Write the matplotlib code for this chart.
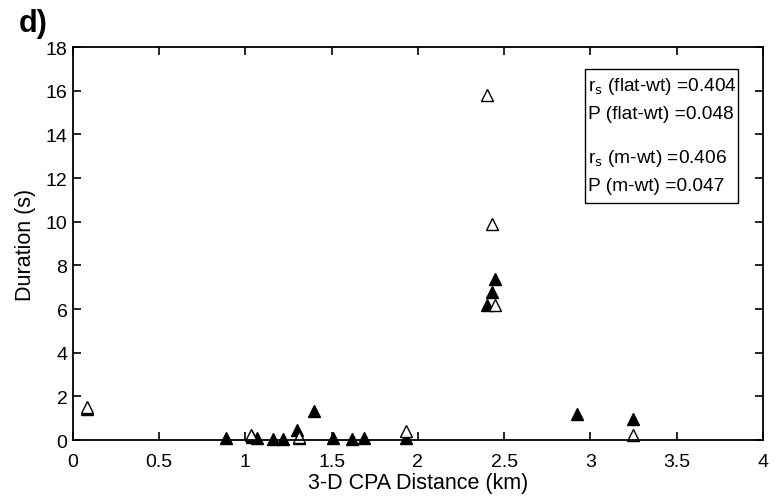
import matplotlib
matplotlib.use("Agg")
import matplotlib.pyplot as plt
from matplotlib.patches import Rectangle

plt.rcParams['font.family'] = ['Liberation Sans', 'DejaVu Sans']

# open triangles (flat-wt)
open_x = [0.08, 2.40, 2.43, 2.45, 1.93, 3.25, 1.03, 1.31]
open_y = [1.50, 15.8, 9.9, 6.2, 0.40, 0.25, 0.25, 0.15]
# filled triangles (m-wt)
fill_x = [0.08, 0.89, 1.04, 1.07, 1.16, 1.22, 1.30, 1.31, 1.40, 1.51, 1.62, 1.69, 1.93,
          2.40, 2.43, 2.45, 2.92, 3.25]
fill_y = [1.40, 0.08, 0.15, 0.10, 0.05, 0.05, 0.45, 0.08, 1.35, 0.10, 0.05, 0.08, 0.08,
          6.2, 6.8, 7.4, 1.2, 0.95]

stats_lines = [r"r$_{\rm s}$ (flat-wt) =0.404", "P (flat-wt) =0.048",
               r"r$_{\rm s}$ (m-wt) =0.406", "P (m-wt) =0.047"]
stats_ypos = [0.903, 0.830, 0.720, 0.647]

fig = plt.figure(figsize=(7.76, 5.02), dpi=100)
ax = fig.add_axes([0.094, 0.1215, 0.889, 0.7825])

ax.plot(fill_x, fill_y, linestyle='none', marker='^', markersize=9,
        markerfacecolor='black', markeredgecolor='black', clip_on=False)
ax.plot(open_x, open_y, linestyle='none', marker='^', markersize=9,
        markerfacecolor='white', markeredgecolor='black', markeredgewidth=1.0,
        clip_on=False)

ax.set_xlim(0, 4)
ax.set_ylim(0, 18)
ax.set_xticks([0, 0.5, 1, 1.5, 2, 2.5, 3, 3.5, 4])
ax.set_xticklabels(['0', '0.5', '1', '1.5', '2', '2.5', '3', '3.5', '4'])
ax.set_yticks(range(0, 19, 2))
ax.tick_params(direction='in', top=True, right=True, length=6, width=1.2,
               labelsize=14)
ax.tick_params(axis='x', pad=9)
ax.tick_params(axis='y', pad=4)
for s in ax.spines.values():
    s.set_linewidth(1.3)

ax.set_xlabel("3-D CPA Distance (km)", fontsize=15.5, labelpad=2)
ax.set_ylabel("Duration (s)", fontsize=15.5, labelpad=7)

fig.text(0.024, 0.936, "d)", fontsize=22, fontweight='bold')

ax.add_patch(Rectangle((0.742, 0.603), 0.222, 0.341, transform=ax.transAxes,
                       facecolor='white', edgecolor='black', linewidth=1.0,
                       zorder=3))
for line, yp in zip(stats_lines, stats_ypos):
    ax.text(0.746, yp, line, transform=ax.transAxes, fontsize=13.8,
            va='center', ha='left', zorder=4)

fig.savefig("out.png", dpi=100)
